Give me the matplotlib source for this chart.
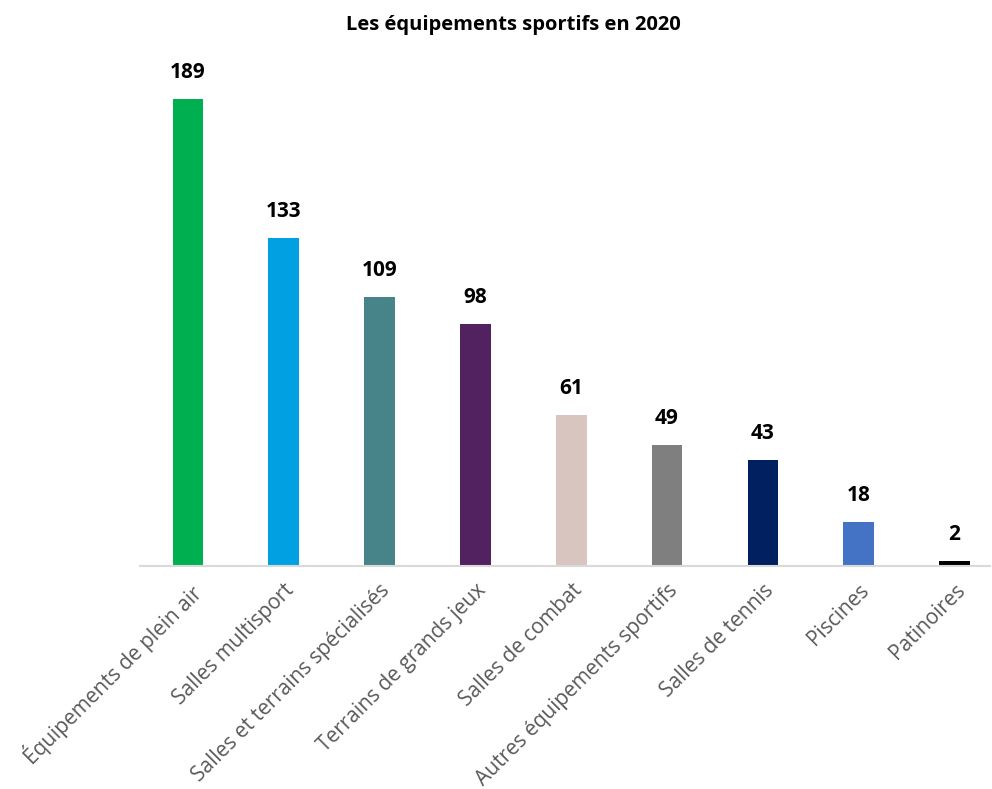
import matplotlib
matplotlib.use("Agg")
import matplotlib.pyplot as plt

categories = ["Équipements de plein air", "Salles multisport", "Salles et terrains spécialisés",
              "Terrains de grands jeux", "Salles de combat", "Autres équipements sportifs",
              "Salles de tennis", "Piscines", "Patinoires"]
values = [189, 133, 109, 98, 61, 49, 43, 18, 2]
colors = ["#00B050", "#00A0E3", "#468489", "#52215F", "#D9C5C0", "#7F7F7F", "#002060", "#4472C4", "#000000"]
title = "Les équipements sportifs en 2020"

plt.rcParams['font.family'] = ['Open Sans', 'DejaVu Sans']

fig = plt.figure(figsize=(9.92, 7.89), dpi=100)
ax = fig.add_axes([140/992, 1-566/789, (990-140)/992, (566-60)/789])
x = list(range(len(values)))
ax.bar(x, values, width=0.32, color=colors, zorder=2)
ax.set_xlim(-0.5, 8.37)
ax.set_ylim(0, 205)
for xi, v in zip(x, values):
    ax.text(xi, v + 6.5, str(v), ha="center", va="bottom", fontsize=15, fontweight="bold", color="black")
for s in ["top", "right", "left"]:
    ax.spines[s].set_visible(False)
ax.spines["bottom"].set_color("#D9D9D9")
ax.spines["bottom"].set_linewidth(1.5)
ax.set_yticks([])
ax.set_xticks(x)
ax.set_xticklabels(categories, rotation=45, ha="right", rotation_mode="anchor", fontsize=15, color="#595959")
ax.tick_params(axis="x", length=0, pad=10)
fig.text(513/992, 1-25/789, title, ha="center", va="center", fontsize=14.5, fontweight="bold")
fig.savefig("out.png", dpi=100)
